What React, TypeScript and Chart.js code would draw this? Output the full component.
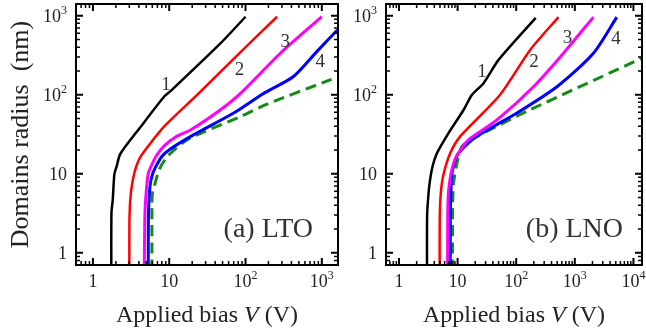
import React, { useEffect, useRef } from 'react';
import { Chart, registerables } from 'chart.js';

Chart.register(...registerables);

const FONT = '"Liberation Serif", "Times New Roman", serif';

// ---------- data: (a) LTO ----------
const ltoV1 = [1.74, 1.75, 1.82, 1.91, 2.05, 2.29, 4.26, 8.6, 10.5, 47.2, 100];
const ltoR1 = [0.6, 3.2, 4.7, 9.8, 12.5, 17.9, 39.7, 95, 112, 449, 970];
const ltoV2 = [3.0, 3.02, 3.16, 3.49, 4.0, 4.71, 8.6, 23.4, 102, 259];
const ltoR2 = [0.6, 3, 6, 10.2, 15, 19.2, 39.7, 100, 405, 970];
const ltoV3 = [4.71, 4.8, 5.0, 5.3, 5.78, 6.8, 8.6, 12, 19.2, 47, 86, 286, 1000];
const ltoR3 = [0.6, 3, 6, 10, 12.4, 17, 22.5, 29, 36, 64.5, 104, 335, 970];
const ltoV4 = [5.31, 5.35, 5.6, 6.06, 6.7, 8, 10, 19.2, 70, 173, 426, 860, 1600];
const ltoR4 = [0.6, 3, 7, 10, 12.4, 16.5, 20.1, 29.7, 58.6, 104, 170, 351, 660];
const ltoVfit = [5.93, 5.94, 6.0, 6.36, 7.4, 9.5, 17.3, 86, 192, 1283, 1700];
const ltoRfit = [0.6, 4, 5.5, 6.9, 11.3, 16.6, 27, 53, 76, 154, 168];

// ---------- data: (b) LNO ----------
const lnoV1 = [3.0, 3.02, 3.15, 3.33, 3.7, 4.46, 7.0, 12.7, 17.6, 27.7, 50, 215];
const lnoR1 = [0.6, 3, 5, 7.6, 12, 18.3, 32.7, 64.5, 100, 140, 276, 940];
const lnoV2 = [4.94, 4.97, 5.2, 5.78, 7.5, 11.1, 53, 173, 526];
const lnoR2 = [0.6, 3, 6, 10, 18.3, 29.7, 100, 369, 960];
const lnoV3 = [6.76, 6.78, 7.0, 7.7, 8.8, 10.4, 15.4, 47, 197, 640, 2075];
const lnoR3 = [0.6, 3, 6, 10, 14.5, 18.3, 27, 48, 126, 335, 960];
const lnoV4 = [7.5, 7.52, 7.7, 8.0, 9.0, 10.4, 21.4, 103, 494, 2075, 5200];
const lnoR4 = [0.6, 3, 6, 10, 14.5, 18.3, 29.7, 58.6, 126, 335, 960];
const lnoVfit = [8.2, 8.22, 8.35, 8.6, 9.6, 11.9, 21.4, 173, 14000];
const lnoRfit = [0.6, 4, 6, 8, 13, 22.2, 29.7, 64.5, 290];

// curve number labels (V, R)
const curveLabels = ['1', '2', '3', '4'];
const ltoLabelV = [9.04, 83.4, 332, 951];
const ltoLabelR = [133, 206, 470, 262];
const lnoLabelV = [26, 202, 752, 5055];
const lnoLabelR = [196, 262, 518, 504];

// ticks
const yTickValues = [1, 10, 100, 1000];
const yTickLabels = ['1', '10', '10^2', '10^3'];
const ltoXTickValues = [1, 10, 100, 1000];
const ltoXTickLabels = ['1', '10', '10^2', '10^3'];
const lnoXTickValues = [1, 10, 100, 1000, 10000];
const lnoXTickLabels = ['1', '10', '10^2', '10^3', '10^4'];

const COLORS = ['#000000', '#ff0000', '#ff00ff', '#0000ff'];
const FIT_COLOR = '#158a15';

function pts(v: number[], r: number[]) {
  return v.map((x, i) => ({ x, y: r[i] }));
}

function makeDatasets(curves: [number[], number[]][], fit: [number[], number[]]) {
  const ds: any[] = curves.map((c, i) => ({
    data: pts(c[0], c[1]),
    borderColor: COLORS[i],
    borderWidth: i >= 2 ? 3 : 2.5,
    showLine: true,
    pointRadius: 0,
    tension: 0.25,
    borderJoinStyle: 'round',
  }));
  ds.push({
    data: pts(fit[0], fit[1]),
    borderColor: FIT_COLOR,
    borderWidth: 3,
    borderDash: [11, 6],
    showLine: true,
    pointRadius: 0,
    tension: 0.25,
  });
  return ds;
}

function drawSup(ctx: CanvasRenderingContext2D, label: string, x: number, y: number, align: 'center' | 'right') {
  const [base, exp] = label.split('^');
  const baseFont = `18px ${FONT}`;
  const supFont = `12px ${FONT}`;
  ctx.font = baseFont;
  const bw = ctx.measureText(base).width;
  let ew = 0;
  if (exp) {
    ctx.font = supFont;
    ew = ctx.measureText(exp).width;
  }
  const total = bw + ew;
  const x0 = align === 'center' ? x - total / 2 : x - total;
  ctx.textAlign = 'left';
  ctx.textBaseline = 'alphabetic';
  ctx.font = baseFont;
  ctx.fillText(base, x0, y);
  if (exp) {
    ctx.font = supFont;
    ctx.fillText(exp, x0 + bw, y - 8);
  }
}

interface PanelCfg {
  curves: [number[], number[]][];
  fit: [number[], number[]];
  xMin: number;
  xMax: number;
  yMin: number;
  yMax: number;
  xTickValues: number[];
  xTickLabels: string[];
  labelV: number[];
  labelR: number[];
  panelText: string;
  panelInset: number;
  yAxisWidth: number;
  padRight: number;
  width: number;
  left: number;
  showYTitle: boolean;
}

function makePlugin(cfg: PanelCfg) {
  return {
    id: 'frameTicks',
    afterDatasetsDraw(chart: any) {
      const ctx: CanvasRenderingContext2D = chart.ctx;
      const a = chart.chartArea;
      const xs = chart.scales.x;
      const ys = chart.scales.y;
      ctx.save();
      ctx.strokeStyle = '#000';
      ctx.fillStyle = '#000';
      // ticks
      for (let d = -1; d <= 4; d++) {
        for (let m = 1; m <= 9; m++) {
          const v = m * Math.pow(10, d);
          const major = m === 1;
          const len = major ? 7 : 4;
          ctx.lineWidth = major ? 2 : 1.5;
          if (v >= cfg.xMin && v <= cfg.xMax) {
            const px = xs.getPixelForValue(v);
            ctx.beginPath();
            ctx.moveTo(px, a.bottom);
            ctx.lineTo(px, a.bottom - len);
            ctx.moveTo(px, a.top);
            ctx.lineTo(px, a.top + len);
            ctx.stroke();
          }
          if (v >= cfg.yMin && v <= cfg.yMax) {
            const py = ys.getPixelForValue(v);
            ctx.beginPath();
            ctx.moveTo(a.left, py);
            ctx.lineTo(a.left + len, py);
            ctx.moveTo(a.right, py);
            ctx.lineTo(a.right - len, py);
            ctx.stroke();
          }
        }
      }
      // frame
      ctx.lineWidth = 2;
      ctx.strokeRect(a.left, a.top, a.right - a.left, a.bottom - a.top);
      // tick labels
      ctx.fillStyle = '#222';
      cfg.xTickValues.forEach((v, i) => {
        drawSup(ctx, cfg.xTickLabels[i], xs.getPixelForValue(v), a.bottom + 22, 'center');
      });
      yTickValues.forEach((v, i) => {
        drawSup(ctx, yTickLabels[i], a.left - 9, ys.getPixelForValue(v) + 6, 'right');
      });
      // x title
      ctx.font = `24px ${FONT}`;
      const p1 = 'Applied bias ';
      const p2 = 'V';
      const p3 = ' (V)';
      const w1 = ctx.measureText(p1).width;
      const w3 = ctx.measureText(p3).width;
      ctx.font = `italic 24px ${FONT}`;
      const w2 = ctx.measureText(p2).width;
      const tot = w1 + w2 + w3;
      const tx = (a.left + a.right) / 2 - tot / 2;
      const ty = 322;
      ctx.textAlign = 'left';
      ctx.textBaseline = 'alphabetic';
      ctx.font = `24px ${FONT}`;
      ctx.fillText(p1, tx, ty);
      ctx.font = `italic 24px ${FONT}`;
      ctx.fillText(p2, tx + w1, ty);
      ctx.font = `24px ${FONT}`;
      ctx.fillText(p3, tx + w1 + w2, ty);
      // y title
      if (cfg.showYTitle) {
        ctx.save();
        ctx.translate(28, (a.top + a.bottom) / 2);
        ctx.rotate(-Math.PI / 2);
        ctx.font = `26px ${FONT}`;
        ctx.textAlign = 'center';
        ctx.textBaseline = 'alphabetic';
        ctx.fillText('Domains radius  (nm)', 0, 0);
        ctx.restore();
      }
      // curve labels
      ctx.fillStyle = '#333';
      ctx.font = `19px ${FONT}`;
      ctx.textAlign = 'center';
      ctx.textBaseline = 'middle';
      curveLabels.forEach((t, i) => {
        ctx.fillText(t, xs.getPixelForValue(cfg.labelV[i]), ys.getPixelForValue(cfg.labelR[i]));
      });
      // panel label
      ctx.fillStyle = '#333';
      ctx.font = `28px ${FONT}`;
      ctx.textAlign = 'right';
      ctx.textBaseline = 'alphabetic';
      ctx.fillText(cfg.panelText, a.right - cfg.panelInset, a.bottom - 28);
      ctx.restore();
    },
  };
}

function Panel({ cfg }: { cfg: PanelCfg }) {
  const ref = useRef<HTMLCanvasElement | null>(null);
  useEffect(() => {
    if (!ref.current) return;
    const chart = new Chart(ref.current, {
      type: 'scatter',
      data: { datasets: makeDatasets(cfg.curves, cfg.fit) },
      options: {
        animation: false,
        responsive: false,
        devicePixelRatio: 1,
        layout: { padding: { top: 4, right: cfg.padRight, left: 0, bottom: 0 } },
        plugins: { legend: { display: false }, tooltip: { enabled: false } },
        scales: {
          x: {
            type: 'logarithmic',
            min: cfg.xMin,
            max: cfg.xMax,
            ticks: { display: false },
            grid: { display: false },
            border: { display: false },
            afterFit: (s: any) => {
              s.height = 71;
            },
          },
          y: {
            type: 'logarithmic',
            min: cfg.yMin,
            max: cfg.yMax,
            ticks: { display: false },
            grid: { display: false },
            border: { display: false },
            afterFit: (s: any) => {
              s.width = cfg.yAxisWidth;
            },
          },
        },
      } as any,
      plugins: [makePlugin(cfg)],
    });
    return () => chart.destroy();
  }, []);
  return (
    <canvas
      ref={ref}
      width={cfg.width}
      height={336}
      style={{ position: 'absolute', left: cfg.left, top: 0, width: cfg.width, height: 336 }}
    />
  );
}

const ltoCfg: PanelCfg = {
  curves: [
    [ltoV1, ltoR1],
    [ltoV2, ltoR2],
    [ltoV3, ltoR3],
    [ltoV4, ltoR4],
  ],
  fit: [ltoVfit, ltoRfit],
  xMin: 0.624,
  xMax: 1630,
  yMin: 0.711,
  yMax: 1406,
  xTickValues: ltoXTickValues,
  xTickLabels: ltoXTickLabels,
  labelV: ltoLabelV,
  labelR: ltoLabelR,
  panelText: '(a) LTO',
  panelInset: 25,
  yAxisWidth: 76,
  padRight: 2,
  width: 340,
  left: 0,
  showYTitle: true,
};

const lnoCfg: PanelCfg = {
  curves: [
    [lnoV1, lnoR1],
    [lnoV2, lnoR2],
    [lnoV3, lnoR3],
    [lnoV4, lnoR4],
  ],
  fit: [lnoVfit, lnoRfit],
  xMin: 0.61,
  xMax: 14000,
  yMin: 0.711,
  yMax: 1406,
  xTickValues: lnoXTickValues,
  xTickLabels: lnoXTickLabels,
  labelV: lnoLabelV,
  labelR: lnoLabelR,
  panelText: '(b) LNO',
  panelInset: 19,
  yAxisWidth: 46,
  padRight: 4,
  width: 306,
  left: 340,
  showYTitle: false,
};

export default function App() {
  return (
    <div style={{ position: 'absolute', left: 0, top: 0, width: 646, height: 336, background: '#fff' }}>
      <Panel cfg={ltoCfg} />
      <Panel cfg={lnoCfg} />
    </div>
  );
}
